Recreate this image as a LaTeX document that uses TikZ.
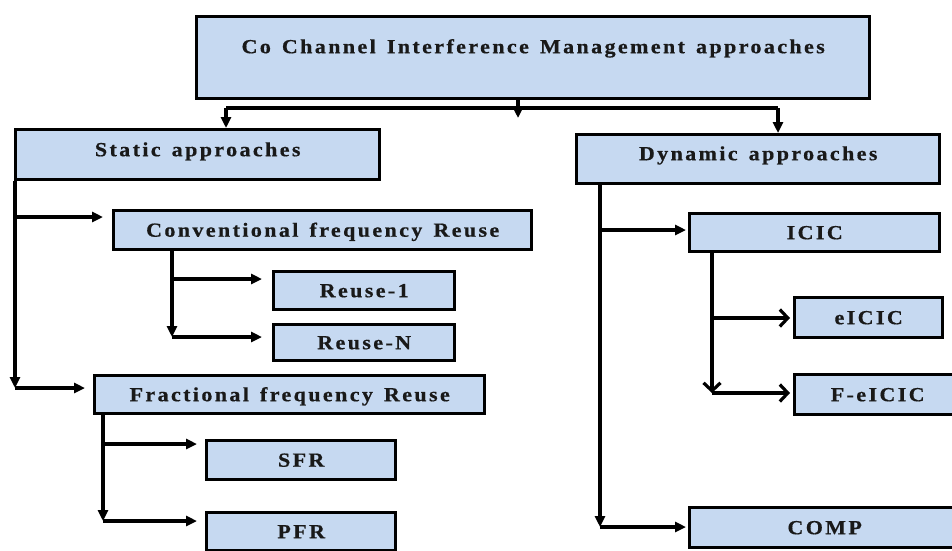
\documentclass[tikz,border=0pt]{standalone}
\usepackage{fontspec}
\newfontfamily\boxfont{Liberation Serif}[LetterSpace=12, FakeStretch=1.1, WordSpace=1.4, FakeBold=0.6]
\usetikzlibrary{arrows.meta}
\definecolor{boxblue}{HTML}{C6D9F1}

\tikzset{
  blk/.style={draw, line width=3.4pt, fill=boxblue, anchor=north west, inner sep=0pt,
    text=black!90, font=\boxfont\bfseries\fontsize{20}{22}\selectfont,
    text height=13pt, text depth=0pt},
  link/.style={line width=3.2pt},
  arr/.style={link, -{Triangle[length=11pt,width=10pt]}},
  barb/.style={link, -{Straight Barb[length=8pt,width=17pt]}}
}

\begin{document}
\begin{tikzpicture}[x=1pt, y=-1pt]
  \useasboundingbox (0,0) rectangle (952,550);
  % Boxes
  \node[blk, minimum width=673pt, minimum height=82pt, text depth=22pt] (cci) at (195,15) {Co Channel Interference Management approaches};
  \node[blk, minimum width=364pt, minimum height=50pt, text depth=10pt] (static) at (14,128) {Static approaches};
  \node[blk, minimum width=363pt, minimum height=49pt, text depth=11pt] (dynamic) at (575,133) {Dynamic approaches};
  % Static side
  \node[blk, minimum width=418pt, minimum height=39pt] (conv) at (112,209) {Conventional frequency Reuse};
  \node[blk, minimum width=181pt, minimum height=38pt] (reuseone) at (272,270) {Reuse-1};
  \node[blk, minimum width=181pt, minimum height=36pt] (reusen) at (272,323) {Reuse-N};
  \node[blk, minimum width=390pt, minimum height=38pt] (ffr) at (93,374) {Fractional frequency Reuse};
  \node[blk, minimum width=189pt, minimum height=39pt] (sfr) at (205,439) {SFR};
  \node[blk, minimum width=189pt, minimum height=38pt] (pfr) at (205,511) {PFR};
  % Dynamic side
  \node[blk, minimum width=250pt, minimum height=38pt] (icic) at (688,212) {ICIC};
  \node[blk, minimum width=148pt, minimum height=40pt] (eicic) at (793,296) {eICIC};
  \node[blk, minimum width=166pt, minimum height=40pt] (feicic) at (793,373) {F-eICIC};
  \node[blk, minimum width=270pt, minimum height=40pt] (comp) at (688,506) {COMP};

  % Split below the top box
  \coordinate (split) at (518,118);
  \coordinate (bl) at (226,108);
  \coordinate (br) at (778,108);
  \draw[arr] (cci.south -| split) -- (split);
  \draw[link] (bl) -- (br);
  \draw[arr] (bl) -- (bl |- static.north);
  \draw[arr] (br) -- (br |- dynamic.north);

  % Static trunk
  \coordinate (sa) at (15,217);
  \coordinate (sb) at (15,388);
  \draw[arr] (static.south -| sb) -- (sb);
  \draw[arr, shorten >=9pt] (sa) -- (sa -| conv.west);
  \draw[arr, shorten >=8pt] (sb) -- (sb -| ffr.west);
  % Conventional trunk
  \coordinate (ca) at (172,279);
  \coordinate (cb) at (172,337);
  \draw[arr] (conv.south -| cb) -- (cb);
  \draw[arr, shorten >=10pt] (ca) -- (ca -| reuseone.west);
  \draw[arr, shorten >=10pt] (cb) -- (cb -| reusen.west);
  % Fractional trunk
  \coordinate (fa) at (103,444);
  \coordinate (fb) at (103,521);
  \draw[arr] (ffr.south -| fb) -- (fb);
  \draw[arr, shorten >=8pt] (fa) -- (fa -| sfr.west);
  \draw[arr, shorten >=8pt] (fb) -- (fb -| pfr.west);

  % Dynamic trunk
  \coordinate (da) at (600,230);
  \coordinate (db) at (600,527);
  \draw[arr] (dynamic.south -| db) -- (db);
  \draw[arr, shorten >=2pt] (da) -- (da -| icic.west);
  \draw[arr, shorten >=2pt] (db) -- (db -| comp.west);
  % ICIC trunk
  \coordinate (ia) at (712,318);
  \coordinate (ib) at (712,393);
  \draw[barb] (icic.south -| ib) -- (ib);
  \draw[barb, shorten >=3pt] (ia) -- (ia -| eicic.west);
  \draw[barb, shorten >=3pt] (ib) -- (ib -| feicic.west);
\end{tikzpicture}
\end{document}
